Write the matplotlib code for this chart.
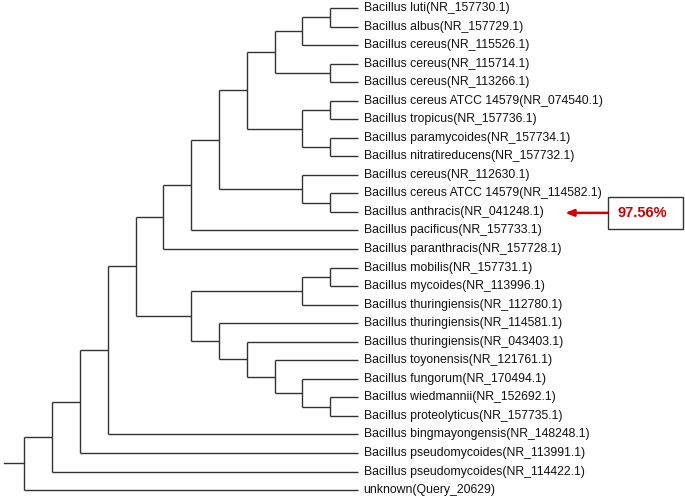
import matplotlib
matplotlib.use('Agg')
import matplotlib.pyplot as plt
from matplotlib.patches import Rectangle

# Nombres de las hojas (de arriba hacia abajo)
etiquetas = [
    'Bacillus luti(NR_157730.1)',
    'Bacillus albus(NR_157729.1)',
    'Bacillus cereus(NR_115526.1)',
    'Bacillus cereus(NR_115714.1)',
    'Bacillus cereus(NR_113266.1)',
    'Bacillus cereus ATCC 14579(NR_074540.1)',
    'Bacillus tropicus(NR_157736.1)',
    'Bacillus paramycoides(NR_157734.1)',
    'Bacillus nitratireducens(NR_157732.1)',
    'Bacillus cereus(NR_112630.1)',
    'Bacillus cereus ATCC 14579(NR_114582.1)',
    'Bacillus anthracis(NR_041248.1)',
    'Bacillus pacificus(NR_157733.1)',
    'Bacillus paranthracis(NR_157728.1)',
    'Bacillus mobilis(NR_157731.1)',
    'Bacillus mycoides(NR_113996.1)',
    'Bacillus thuringiensis(NR_112780.1)',
    'Bacillus thuringiensis(NR_114581.1)',
    'Bacillus thuringiensis(NR_043403.1)',
    'Bacillus toyonensis(NR_121761.1)',
    'Bacillus fungorum(NR_170494.1)',
    'Bacillus wiedmannii(NR_152692.1)',
    'Bacillus proteolyticus(NR_157735.1)',
    'Bacillus bingmayongensis(NR_148248.1)',
    'Bacillus pseudomycoides(NR_113991.1)',
    'Bacillus pseudomycoides(NR_114422.1)',
    'unknown(Query_20629)',
]

# Topologia del arbol (indices de las hojas)
grupo_cereus = ((((0, 1), 2), (3, 4)), ((5, 6), (7, 8)))
grupo_anthracis = (grupo_cereus, (9, (10, 11)))
grupo_e = ((grupo_anthracis, 12), 13)
grupo_f = (((14, 15), 16), (17, (18, (19, (20, (21, 22))))))
arbol = (((((grupo_e, grupo_f), 23), 24), 25), 26)

# Anotacion de similitud
hoja_marcada = 11
similitud = '97.56%'

color_linea = '#333333'

fig = plt.figure(figsize=(6.85, 4.99), dpi=100)
ax = fig.add_axes([0, 0, 1, 1])


# altura = numero de niveles hasta las puntas
def altura(nodo):
    if isinstance(nodo, int):
        return 0
    return max(altura(h) for h in nodo) + 1


def dibujar(nodo):
    # devuelve (x, y) del nodo
    if isinstance(nodo, int):
        return 0, nodo
    x = -altura(nodo)
    hijos = [dibujar(h) for h in nodo]
    ys = [p[1] for p in hijos]
    for hx, hy in hijos:
        ax.plot([x, hx], [hy, hy], color=color_linea, lw=1, solid_capstyle='butt')
    ax.plot([x, x], [min(ys), max(ys)], color=color_linea, lw=1, solid_capstyle='butt')
    return x, sum(ys) / len(ys)


rx, ry = dibujar(arbol)
# tallo de la raiz
ax.plot([rx - 0.75, rx], [ry, ry], color=color_linea, lw=1)

for i, nombre in enumerate(etiquetas):
    ax.text(0.2, i, nombre, fontsize=8.8, family='Liberation Sans',
            va='center', ha='left', color='#111111')

# flecha y caja
ax.annotate('', xy=(7.45, hoja_marcada + 0.05), xytext=(8.99, hoja_marcada + 0.05),
            arrowprops=dict(arrowstyle='-|>,head_length=0.5,head_width=0.2',
                            color='#D40000', lw=1.8, shrinkA=0, shrinkB=0))
ax.add_patch(Rectangle((8.99, 10.19), 2.7, 1.73, fc='white', ec='#333333', lw=1))
ax.text(10.22, hoja_marcada + 0.05, similitud, fontsize=10.5, fontweight='bold',
        family='Liberation Sans', color='#CC0000', va='center', ha='center')

ax.set_xlim(-12.88, 11.76)
ax.set_ylim(26.48, -0.43)
ax.axis('off')

fig.savefig('out.png', dpi=100)
